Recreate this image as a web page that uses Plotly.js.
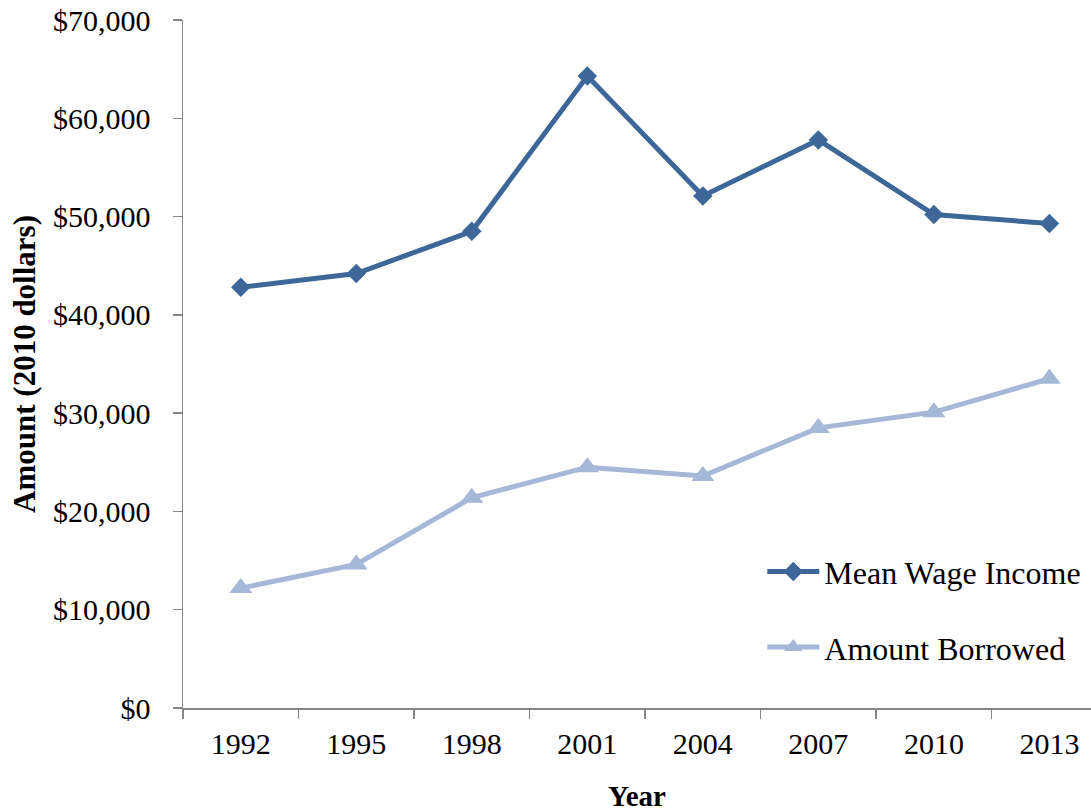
<!DOCTYPE html>
<html>
<head>
<meta charset="utf-8">
<script src="https://cdn.plot.ly/plotly-3.0.1.min.js"></script>
<style>
  html, body { margin: 0; padding: 0; background: #fff; }
  #chart { width: 1091px; height: 812px; }
</style>
</head>
<body>
<div id="chart"></div>
<script>
// Survey years (category axis)
const years = ['1992', '1995', '1998', '2001', '2004', '2007', '2010', '2013'];

// Mean wage income, 2010 dollars
const meanWageIncome = [42800, 44200, 48500, 64300, 52100, 57800, 50200, 49300];

// Amount borrowed, 2010 dollars
const amountBorrowed = [12200, 14600, 21400, 24500, 23600, 28500, 30100, 33500];

// Y-axis tick values and labels
const yTickVals = [0, 10000, 20000, 30000, 40000, 50000, 60000, 70000];
const yTickText = ['$0', '$10,000', '$20,000', '$30,000', '$40,000', '$50,000', '$60,000', '$70,000'];

const FONT = '"Liberation Serif", "Times New Roman", Times, serif';
const DARK = '#3C6798';
const LIGHT = '#A6B8D7';

const traces = [
  {
    x: years,
    y: meanWageIncome,
    name: 'Mean Wage Income',
    legendgroup: 'wage',
    type: 'scatter',
    mode: 'lines+markers',
    line: { color: DARK, width: 5 },
    marker: { symbol: 'diamond', size: 15, color: DARK },
    hoverinfo: 'x+y'
  },
  {
    x: years,
    y: amountBorrowed,
    name: 'Amount Borrowed',
    legendgroup: 'borrowed',
    type: 'scatter',
    mode: 'lines+markers',
    line: { color: LIGHT, width: 5 },
    marker: { symbol: 'triangle-up', size: 20, color: LIGHT },
    hoverinfo: 'x+y'
  }
];

const layout = {
  width: 1091,
  height: 812,
  paper_bgcolor: '#ffffff',
  plot_bgcolor: '#ffffff',
  font: { family: FONT, size: 30, color: '#000000' },
  margin: { l: 183, r: 0, t: 20, b: 104, autoexpand: false },
  showlegend: true,
  legend: {
    x: 0.638,
    xanchor: 'left',
    y: 0.143,
    yanchor: 'middle',
    bgcolor: 'rgba(0,0,0,0)',
    font: { family: FONT, size: 32, color: '#000000' },
    itemwidth: 52,
    tracegroupgap: 31,
    traceorder: 'grouped'
  },
  xaxis: {
    type: 'category',
    range: [-0.5, 7.36],
    showgrid: false,
    zeroline: false,
    showline: true,
    linecolor: '#868686',
    linewidth: 1.5,
    ticks: 'outside',
    tickson: 'boundaries',
    ticklen: 9,
    tickwidth: 1.5,
    tickcolor: '#868686',
    ticklabelstandoff: 8,
    tickfont: { family: FONT, size: 30, color: '#000000' },
    title: {
      text: '<b>Year</b>',
      font: { family: FONT, size: 29, color: '#000000' },
      standoff: 27
    },
    fixedrange: true
  },
  yaxis: {
    range: [0, 70000],
    tickvals: yTickVals,
    ticktext: yTickText,
    showgrid: false,
    zeroline: false,
    showline: true,
    linecolor: '#868686',
    linewidth: 1.5,
    ticks: 'outside',
    ticklen: 9,
    tickwidth: 1.5,
    tickcolor: '#868686',
    ticklabelstandoff: 16,
    tickfont: { family: FONT, size: 30, color: '#000000' },
    title: {
      text: '<b>Amount (2010 dollars)</b>',
      font: { family: FONT, size: 31, color: '#000000' },
      standoff: 8
    },
    fixedrange: true
  }
};

Plotly.newPlot('chart', traces, layout, { displayModeBar: false, staticPlot: true });
</script>
</body>
</html>
